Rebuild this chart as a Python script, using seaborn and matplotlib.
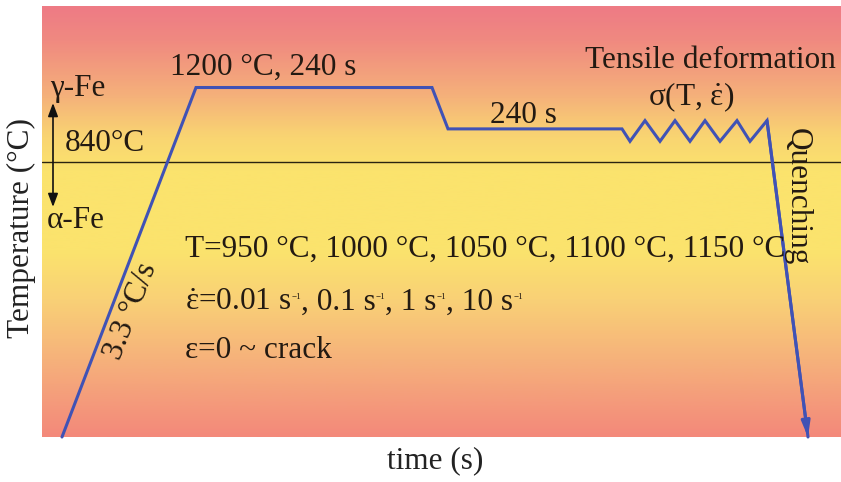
import numpy as np
import pandas as pd
import matplotlib
matplotlib.use("Agg")
import matplotlib.pyplot as plt
from matplotlib.colors import LinearSegmentedColormap
import seaborn as sns

# ---- thermal schedule (schematic time units, temperature in °C) ----
time_pts = [20, 154, 390, 406, 580, 588, 603, 618, 633, 648, 663, 678, 695, 708, 725, 766]
temp_pts = [25, 1200, 1200, 1000, 1000, 940, 1040, 940, 1040, 940, 1040, 940, 1040, 940, 1040, 25]

transition_temp = 840          # alpha/gamma boundary
soak_temp = 1200
soak_time = 240
hold_time = 240
heating_rate = 3.3
deform_temps = [950, 1000, 1050, 1100, 1150]
strain_rates = ["0.01", "0.1", "1", "10"]

W, H = 841, 482
LINE = "#4052b5"
INK = "#231a12"
FS = 22.5

sns.set_theme(style="white")
plt.rcParams["font.family"] = ["Liberation Serif", "DejaVu Serif"]
plt.rcParams["mathtext.fontset"] = "custom"
plt.rcParams["mathtext.rm"] = "Liberation Serif"
plt.rcParams["mathtext.it"] = "Liberation Serif:italic"
plt.rcParams["mathtext.bf"] = "Liberation Serif:bold"

fig = plt.figure(figsize=(W / 100, H / 100), dpi=100)
pos = [42 / W, 1 - 437 / H, 799 / W, 431 / H]

# background colour wash behind the diagram
bg = fig.add_axes(pos, zorder=0)
stops = [(0.00, "#ee7b85"), (0.08, "#f08a80"), (0.21, "#f5b27a"), (0.30, "#f9d472"),
         (0.38, "#fbe36d"), (0.57, "#fbe36d"), (0.68, "#f9d176"), (0.82, "#f6b27b"),
         (0.94, "#f4967b"), (1.00, "#f3897a")]
cmap = LinearSegmentedColormap.from_list("wash", stops)
bg.imshow(np.linspace(0, 1, 400)[:, None], cmap=cmap, aspect="auto",
          extent=[0, 1, 0, 1], interpolation="bicubic")
bg.set_axis_off()

ax = fig.add_axes(pos, zorder=1)
ax.set_facecolor("none")

# compress the range below the transformation temperature
k = 1.631
def fwd(t):
    t = np.asarray(t, dtype=float)
    return np.where(t >= transition_temp, t, transition_temp - (transition_temp - t) * k)
def inv(y):
    y = np.asarray(y, dtype=float)
    return np.where(y >= transition_temp, y, transition_temp - (transition_temp - y) / k)
ax.set_yscale("function", functions=(fwd, inv))
ax.set_xlim(0, 799)
ax.set_ylim(25, 1594)

df = pd.DataFrame({"time": time_pts, "temp": temp_pts})
sns.lineplot(data=df, x="time", y="temp", ax=ax, sort=False, color=LINE,
             linewidth=2.2, solid_joinstyle="miter", clip_on=False, zorder=3)
ax.annotate("", xy=(time_pts[-1], temp_pts[-1]), xytext=(time_pts[-2], temp_pts[-2]),
            arrowprops=dict(arrowstyle="-|>,head_length=0.9,head_width=0.25",
                            mutation_scale=10, color=LINE, lw=2.2,
                            shrinkA=0, shrinkB=0),
            annotation_clip=False, zorder=4)
ax.axhline(transition_temp, color="#2a2410", lw=1.0, zorder=2)

for s in ax.spines.values():
    s.set_visible(False)
ax.set_xticks([])
ax.set_yticks([])
ax.set_xlabel("")
ax.set_ylabel("")


def put(s, x, y, **kw):
    kw.setdefault("fontsize", FS)
    kw.setdefault("color", INK)
    kw.setdefault("va", "baseline")
    kw.setdefault("ha", "left")
    return ax.annotate(s, xy=(x, H - y), xycoords="figure pixels",
                       annotation_clip=False, zorder=5, **kw)


renderer = fig.canvas.get_renderer()

def put_chain(parts, x, y):
    for s, size, rise in parts:
        t = put(s, x, y - rise, fontsize=size)
        x = t.get_window_extent(renderer).x1 * W / (fig.get_figwidth() * fig.dpi)


put(f"{soak_temp} °C, {soak_time} s", 170, 75)
put("γ-Fe", 50, 96)
put(f"{transition_temp}°C", 65, 151)
put("α-Fe", 47, 228)
ax.annotate("", xy=(53, H - 103), xytext=(53, H - 207), xycoords="figure pixels",
            textcoords="figure pixels", annotation_clip=False,
            arrowprops=dict(arrowstyle="<|-|>,head_length=0.8,head_width=0.3",
                            mutation_scale=10, color="#111111", lw=1.2,
                            shrinkA=0, shrinkB=0))
put(f"{hold_time} s", 490, 123)
put("Tensile deformation", 585, 68)
put(r"σ(T, $\dot{\mathrm{ε}}$)", 648, 105)
put("T=" + ", ".join(f"{t} °C" for t in deform_temps), 185, 257)

rate_parts = []
for i, r in enumerate(strain_rates):
    lead = r"$\dot{\mathrm{ε}}$=" if i == 0 else ", "
    rate_parts.append((f"{lead}{r} s", FS, 0))
    rate_parts.append(("−1", 6.5, 11))
put_chain(rate_parts, 185, 310)

put("ε=0 ~ crack", 185, 358)
put(f"{heating_rate} °C/s", 131, 311, rotation=69, ha="center", va="center",
    rotation_mode="anchor")
put("Quenching", 797, 197, rotation=-90, ha="center", va="center")

put("time (s)", 435, 468, ha="center", color="#222222")
put("Temperature (°C)", 21, 228, rotation=90, ha="center", va="center", color="#222222")

fig.savefig("out.png", dpi=100)
